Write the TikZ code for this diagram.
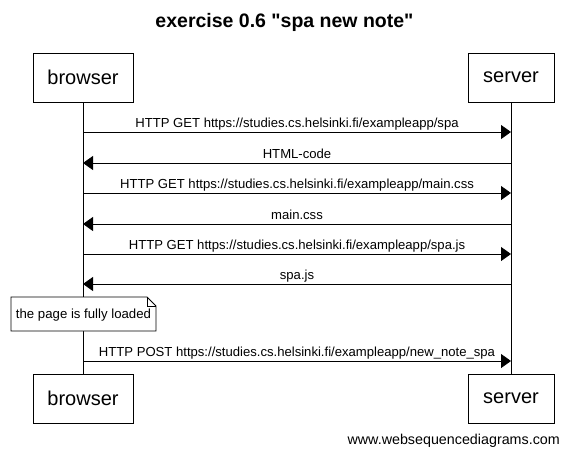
\documentclass[tikz,border=0pt]{standalone}
\usepackage{fontspec}
\setmainfont{Liberation Sans}[Ligatures=TeXOff]
\usetikzlibrary{arrows.meta}
\begin{document}
\begin{tikzpicture}[x=1pt,y=-1pt,
  actor/.style={draw,line width=0.8pt,minimum height=49pt,inner sep=0pt,font=\fontsize{20}{24}\selectfont},
  msg/.style={line width=0.8pt,-{Triangle[length=10pt,width=14pt]}},
  lbl/.style={font=\fontsize{13.1}{15}\selectfont,inner sep=0pt,anchor=base},
  life/.style={line width=0.8pt}]
\useasboundingbox (0,0) rectangle (569,458);
\node[font=\bfseries\fontsize{19.5}{23}\selectfont] (title) at (284.5,22) {exercise 0.6 "spa new note"};
\node[actor,minimum width=100pt] (bt) at (83,77.5) {browser};
\node[actor,minimum width=86pt] (st) at (511,77.5) {server};
\node[actor,minimum width=100pt] (bb) at (83,398.5) {browser};
\node[actor,minimum width=86pt] (sb) at (511,398.5) {server};
\draw[life] (bt.south) -- (bb.north);
\draw[life] (st.south) -- (sb.north);
% messages
\foreach \y/\dir/\t [count=\i] in {
  132/r/{HTTP GET https://studies.cs.helsinki.fi/exampleapp/spa},
  163/l/{HTML-code},
  193/r/{HTTP GET https://studies.cs.helsinki.fi/exampleapp/main.css},
  224/l/{main.css},
  254/r/{HTTP GET https://studies.cs.helsinki.fi/exampleapp/spa.js},
  284/l/{spa.js},
  361/r/{HTTP POST https://studies.cs.helsinki.fi/exampleapp/new\_note\_spa}}{
  \coordinate (b\i) at (83,\y);
  \coordinate (s\i) at (511,\y);
  \if r\dir
    \draw[msg] (b\i) -- (s\i);
  \else
    \draw[msg] (s\i) -- (b\i);
  \fi
  \node[lbl] (m\i) at (297,\y-5) {\t};
}
% note
\coordinate (n1) at (11,297);
\coordinate (n2) at (147,297);
\coordinate (n3) at (156,306);
\coordinate (n4) at (156,331);
\coordinate (n5) at (11,331);
\coordinate (n6) at (147,306);
\draw[line width=0.8pt,fill=white] (n1) -- (n2) -- (n3) -- (n4) -- (n5) -- cycle;
\draw[line width=0.6pt] (n2) -- (n6) -- (n3);
\node[font=\fontsize{13.2}{15}\selectfont] (note) at (83.5,315) {the page is fully loaded};
\node[font=\fontsize{14.3}{16}\selectfont,anchor=east,inner sep=0pt] (wm) at (560,441) {www.websequencediagrams.com};
\end{tikzpicture}
\end{document}
